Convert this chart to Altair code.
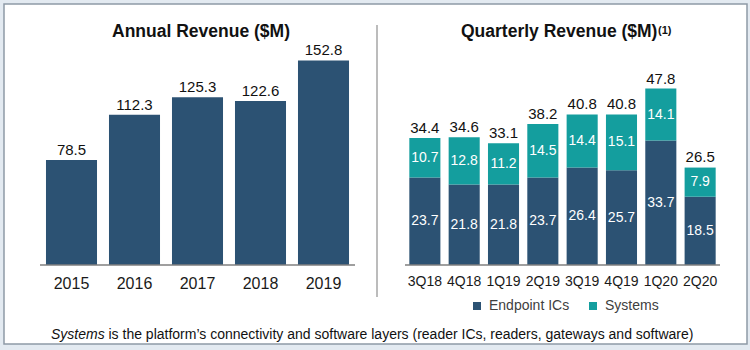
import altair as alt
import pandas as pd

# ---- data ----
years = ["2015", "2016", "2017", "2018", "2019"]
annual = [78.5, 112.3, 125.3, 122.6, 152.8]

quarters = ["3Q18", "4Q18", "1Q19", "2Q19", "3Q19", "4Q19", "1Q20", "2Q20"]
endpoint = [23.7, 21.8, 21.8, 23.7, 26.4, 25.7, 33.7, 18.5]
systems = [10.7, 12.8, 11.2, 14.5, 14.4, 15.1, 14.1, 7.9]
totals = [34.4, 34.6, 33.1, 38.2, 40.8, 40.8, 47.8, 26.5]

series = ["Endpoint ICs", "Systems"]
colors = ["#2C5273", "#149E9E"]

FONT = "Liberation Sans"

annual_df = pd.DataFrame({"year": years, "rev": annual})
rows = []
for q, e, s in zip(quarters, endpoint, systems):
    rows.append({"q": q, "series": series[0], "v": e, "ord": 0, "mid": e / 2})
    rows.append({"q": q, "series": series[1], "v": s, "ord": 1, "mid": e + s / 2})
qdf = pd.DataFrame(rows)
tot_df = pd.DataFrame({"q": quarters, "total": totals})
one = pd.DataFrame({"a": [0]})

# ---- left panel: annual revenue ----
xl = alt.X("year:N", sort=years,
           scale=alt.Scale(range=[40, 355], paddingInner=0.19, paddingOuter=0.095),
           axis=None)
yl = alt.Y("rev:Q", scale=alt.Scale(domain=[0, 198], nice=False, zero=True), axis=None)

left_bars = alt.Chart(annual_df).mark_bar(color=colors[0]).encode(x=xl, y=yl)
left_lbl = alt.Chart(annual_df).mark_text(
    font=FONT, fontSize=15, color="#111111", baseline="bottom", dy=-2
).encode(x=xl, y=yl, text=alt.Text("rev:Q", format=".1f"))
left_axis_lbl = alt.Chart(annual_df).mark_text(
    font=FONT, fontSize=16, color="#1a1a1a", baseline="middle"
).encode(x=xl, y=alt.value(284), text="year:N")
left_axis = alt.Chart(one).mark_rule(color="#7f7f7f", strokeWidth=1.5).encode(
    x=alt.value(40), x2=alt.value(355), y=alt.value(265))
left = alt.layer(left_bars, left_lbl, left_axis_lbl, left_axis)

# ---- right panel: quarterly revenue ----
xr = alt.X("q:N", sort=quarters,
           scale=alt.Scale(range=[405, 720], paddingInner=0.21, paddingOuter=0.11),
           axis=None)
ysc = alt.Scale(domain=[0, 71.8], nice=False, zero=True)

right_bars = alt.Chart(qdf).mark_bar().encode(
    x=xr,
    y=alt.Y("v:Q", stack="zero", scale=ysc, axis=None),
    color=alt.Color("series:N", scale=alt.Scale(domain=series, range=colors),
                    legend=alt.Legend(orient="none", legendX=470, legendY=299,
                                      direction="horizontal", title=None,
                                      symbolType="square", symbolSize=64,
                                      symbolStrokeWidth=0, labelFontSize=14,
                                      labelFont=FONT, labelColor="#404040",
                                      columnPadding=16, labelOffset=5, padding=0)),
    order=alt.Order("ord:Q"),
)
right_inner = alt.Chart(qdf).mark_text(
    font=FONT, fontSize=14, color="white", baseline="middle"
).encode(x=xr, y=alt.Y("mid:Q", scale=ysc, axis=None),
         text=alt.Text("v:Q", format=".1f"))
right_tot = alt.Chart(tot_df).mark_text(
    font=FONT, fontSize=15, color="#111111", baseline="bottom", dy=-2
).encode(x=xr, y=alt.Y("total:Q", scale=ysc, axis=None),
         text=alt.Text("total:Q", format=".1f"))
right_axis_lbl = alt.Chart(tot_df).mark_text(
    font=FONT, fontSize=14, color="#1a1a1a", baseline="middle"
).encode(x=xr, y=alt.value(282), text="q:N")
right_axis = alt.Chart(one).mark_rule(color="#7f7f7f", strokeWidth=1.5).encode(
    x=alt.value(405), x2=alt.value(720), y=alt.value(265))
right = alt.layer(right_bars, right_inner, right_tot, right_axis_lbl, right_axis)

# ---- decorations ----
border = alt.Chart(one).mark_rect(fill="white", stroke="#8f9aa6", strokeWidth=1.5).encode(
    x=alt.value(4), x2=alt.value(747), y=alt.value(4), y2=alt.value(344))
divider = alt.Chart(one).mark_rule(color="#a6a6a6", strokeWidth=1.5).encode(
    x=alt.value(377), y=alt.value(25), y2=alt.value(297))
t_left = alt.Chart(one).mark_text(
    text="Annual Revenue ($M)", font=FONT, fontSize=17.5, fontWeight="bold",
    color="#111111", align="center", baseline="middle"
).encode(x=alt.value(201), y=alt.value(32))
t_right = alt.Chart(one).mark_text(
    text="Quarterly Revenue ($M)", font=FONT, fontSize=17.5, fontWeight="bold",
    color="#111111", align="left", baseline="middle"
).encode(x=alt.value(461), y=alt.value(32))
t_sup = alt.Chart(one).mark_text(
    text="(1)", font=FONT, fontSize=11, fontWeight="bold",
    color="#111111", align="left", baseline="top"
).encode(x=alt.value(658), y=alt.value(25))
foot_i = alt.Chart(one).mark_text(
    text="Systems", font=FONT, fontSize=14, fontStyle="italic",
    color="#111111", align="left", baseline="middle"
).encode(x=alt.value(51), y=alt.value(335))
foot_r = alt.Chart(one).mark_text(
    text="is the platform\u2019s connectivity and software layers (reader ICs, readers, gateways and software)",
    font=FONT, fontSize=14, color="#111111", align="left", baseline="middle"
).encode(x=alt.value(108.5), y=alt.value(335))

chart = alt.layer(
    border, divider, t_left, t_right, t_sup, left, right, foot_i, foot_r
).resolve_scale(
    x="independent", y="independent"
).properties(
    width=750, height=265,
    autosize=alt.AutoSizeParams(type="none"),
    padding={"left": 0, "top": 0, "right": 0, "bottom": 85},
    background="#E3EAF1",
).configure_view(stroke=None)

chart.save("out.html", embed_options={"renderer": "svg", "actions": False})
